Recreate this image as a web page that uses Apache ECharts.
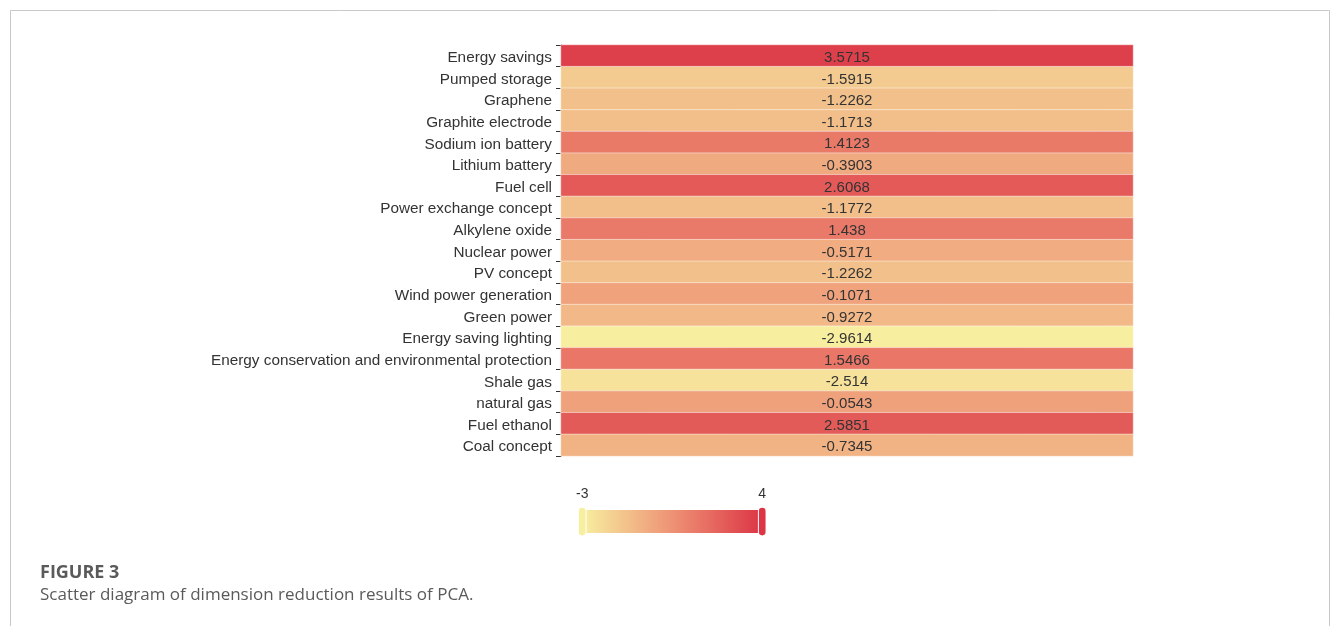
<!DOCTYPE html>
<html>
<head>
<meta charset="utf-8">
<script src="https://cdn.jsdelivr.net/npm/echarts@6/dist/echarts.min.js"></script>
<style>
  html, body { margin: 0; padding: 0; background: #fff; }
  #chart { width: 1333px; height: 626px; }
</style>
</head>
<body>
<div id="chart"></div>
<script>
// Industry concepts, top to bottom
const concepts = [
  'Energy savings', 'Pumped storage', 'Graphene', 'Graphite electrode',
  'Sodium ion battery', 'Lithium battery', 'Fuel cell', 'Power exchange concept',
  'Alkylene oxide', 'Nuclear power', 'PV concept', 'Wind power generation',
  'Green power', 'Energy saving lighting', 'Energy conservation and environmental protection',
  'Shale gas', 'natural gas', 'Fuel ethanol', 'Coal concept'
];
// PCA score for each concept
const scores = [
  3.5715, -1.5915, -1.2262, -1.1713, 1.4123, -0.3903, 2.6068, -1.1772,
  1.438, -0.5171, -1.2262, -0.1071, -0.9272, -2.9614, 1.5466,
  -2.514, -0.0543, 2.5851, -0.7345
];
const scaleMin = -3;
const scaleMax = 4;

const cells = scores.map((v, i) => [0, i, v]);

const chart = echarts.init(document.getElementById('chart'));
chart.setOption({
  animation: false,
  backgroundColor: '#fff',
  textStyle: { fontFamily: '"Liberation Sans", Arial, sans-serif' },
  grid: { left: 561, right: 200, top: 45, bottom: 170 },
  xAxis: {
    type: 'category',
    data: [''],
    show: false
  },
  yAxis: {
    type: 'category',
    data: concepts,
    inverse: true,
    axisLine: { show: true, lineStyle: { color: '#333', width: 1 } },
    axisTick: { show: true, length: 5, lineStyle: { color: '#333' } },
    axisLabel: {
      color: '#333',
      fontSize: 15.3,
      margin: 9,
      formatter: s => '{t|' + s + '}',
      rich: { t: { fontSize: 15.3, color: '#333', padding: [4, 0, 0, 0] } }
    },
    splitLine: { show: false }
  },
  visualMap: {
    type: 'continuous',
    min: scaleMin,
    max: scaleMax,
    calculable: true,
    orient: 'horizontal',
    left: 561,
    top: 472,
    itemWidth: 23,
    itemHeight: 180,
    textStyle: { color: '#333', fontSize: 14 },
    inRange: { color: ['#f7efa0', '#ee9275', '#dc3545'] }
  },
  series: [{
    type: 'heatmap',
    data: cells,
    itemStyle: { borderColor: 'rgba(255,255,255,0.45)', borderWidth: 1 },
    label: {
      show: true,
      formatter: p => '{v|' + p.value[2] + '}',
      rich: { v: { fontSize: 15, color: '#333', padding: [4, 0, 0, 0] } }
    }
  }],
  graphic: [
    {
      type: 'rect',
      shape: { x: 10.5, y: 10.5, width: 1319, height: 700 },
      style: { fill: 'none', stroke: '#c8c8c8', lineWidth: 1 },
      silent: true
    },
    {
      type: 'text',
      left: 40,
      top: 564,
      style: {
        text: 'FIGURE 3',
        fill: '#5a5a5a',
        font: 'bold 18px "Open Sans", sans-serif'
      }
    },
    {
      type: 'text',
      left: 40,
      top: 587,
      style: {
        text: 'Scatter diagram of dimension reduction results of PCA.',
        fill: '#5a5a5a',
        font: '17px "Open Sans", sans-serif'
      }
    }
  ]
});
</script>
</body>
</html>
